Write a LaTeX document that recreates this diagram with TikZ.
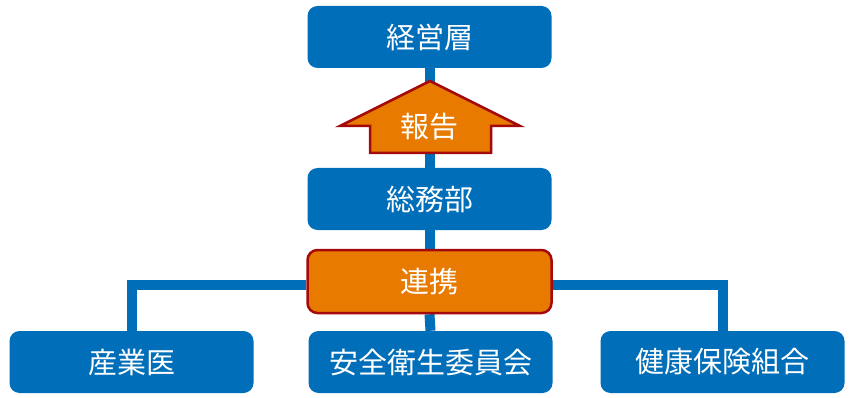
\documentclass[tikz,border=0pt]{standalone}
\usepackage{fontspec}
\newfontfamily\cjk{Noto Sans CJK JP}
\usetikzlibrary{calc,backgrounds}
\definecolor{boxblue}{RGB}{0,110,185}
\definecolor{boxorange}{RGB}{232,122,0}
\definecolor{boxred}{RGB}{165,10,10}
\newcommand\lowtxt[1]{\raisebox{-2.5pt}{#1}}
\tikzset{
  bluebox/.style={rounded corners=10pt, fill=boxblue, minimum width=244pt, minimum height=62pt, inner sep=0pt, text=white, font=\cjk\fontsize{29}{29}\selectfont},
  orangebox/.style={rounded corners=10pt, fill=boxorange, draw=boxred, line width=2.5pt, minimum width=244pt, minimum height=63pt, inner sep=0pt, text=white, font=\cjk\fontsize{29}{29}\selectfont},
  conn/.style={draw=boxblue, line width=10pt},
  label/.style={text=white, font=\cjk\fontsize{29}{29}\selectfont, inner sep=0pt}
}
\begin{document}
\begin{tikzpicture}[x=1pt,y=-1pt]
\useasboundingbox (0,0) rectangle (851,398);
\node[bluebox] (top) at (429.5,37) {\lowtxt{経営層}};
\node[bluebox] (soumu) at (429.5,199) {\lowtxt{総務部}};
\node[orangebox] (renkei) at (429.5,281.5) {\lowtxt{連携}};
\node[bluebox] (sangyo) at (131.5,362) {\lowtxt{産業医}};
\node[bluebox] (anzen) at (430.5,362) {\lowtxt{安全衛生委員会}};
\node[bluebox] (kenko) at (722.5,362) {\lowtxt{健康保険組合}};
\begin{pgfonlayer}{background}
\draw[conn] (top.south) -- (soumu.north);
\draw[conn] (soumu.south) -- (renkei.north);
\draw[conn] (renkei.south) -- (anzen.north);
\draw[conn] ($(renkei.west)+(0,3)$) -| (sangyo.north);
\draw[conn] ($(renkei.east)+(0,3)$) -| (kenko.north);
\end{pgfonlayer}
\draw[fill=boxorange, draw=boxred, line width=2.5pt, line join=miter]
  (430,81) -- (520,126) -- (491,126) -- (491,153) -- (370,153) -- (370,126) -- (340,126) -- cycle;
\node[label] (houkoku) at (429,127) {報告};
\end{tikzpicture}
\end{document}
